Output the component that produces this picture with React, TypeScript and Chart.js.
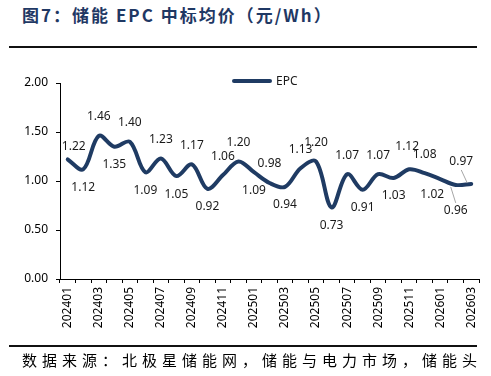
import React, { useEffect, useRef } from "react";
import { Chart, registerables } from "chart.js";

Chart.register(...registerables);

const months = [
  "202401", "202402", "202403", "202404", "202405", "202406", "202407", "202408", "202409",
  "202410", "202411", "202412", "202501", "202502", "202503", "202504", "202505", "202506",
  "202507", "202508", "202509", "202510", "202511", "202512", "202601", "202602", "202603",
];
const epcValues = [
  1.22, 1.12, 1.46, 1.35, 1.4, 1.09, 1.23, 1.05, 1.17, 0.92, 1.06, 1.2, 1.09, 0.98, 0.94,
  1.13, 1.2, 0.73, 1.07, 0.91, 1.07, 1.03, 1.12, 1.08, 1.02, 0.96, 0.97,
];
const yTicks = [0, 0.5, 1, 1.5, 2];
const seriesName = "EPC";
const titleText = "图7：储能 EPC 中标均价（元/Wh）";
const sourceText = "数据来源：北极星储能网，储能与电力市场，储能头";

const NAVY = "#1F3B63";
const BELOW = new Set([1, 3, 5, 7, 9, 12, 14, 17, 19, 21, 24, 25]);
const NUDGE: Record<number, [number, number]> = { 0: [6, 6], 22: [-2, -4], 24: [-8, -2], 25: [0, 8], 26: [-10, -3] };
const LEADER = new Set([25, 26]);

const labelPlugin = {
  id: "valueLabels",
  afterDatasetsDraw(chart: any) {
    const ctx = chart.ctx;
    const meta = chart.getDatasetMeta(0);
    ctx.save();
    ctx.font = '12px "Noto Sans"';
    ctx.textAlign = "center";
    ctx.textBaseline = "middle";
    meta.data.forEach((pt: any, i: number) => {
      const below = BELOW.has(i);
      const [nx, ny] = NUDGE[i] || [0, 0];
      const x = pt.x + nx;
      const y = pt.y + (below ? 18 : -19) + ny;
      if (LEADER.has(i)) {
        ctx.strokeStyle = "#a6a6a6";
        ctx.lineWidth = 1;
        ctx.beginPath();
        if (below) {
          ctx.moveTo(x, y - 8);
          ctx.lineTo(x - 5, pt.y + 2);
        } else {
          ctx.moveTo(x, y + 8);
          ctx.lineTo(pt.x - 4, pt.y - 1);
        }
        ctx.stroke();
      }
      ctx.fillStyle = "#1a1a1a";
      ctx.fillText(epcValues[i].toFixed(2), x, y);
    });
    ctx.restore();
  },
};

export default function App() {
  const ref = useRef<HTMLCanvasElement | null>(null);
  useEffect(() => {
    if (!ref.current) return;
    const chart = new Chart(ref.current, {
      type: "line",
      data: {
        labels: months,
        datasets: [
          {
            label: seriesName,
            data: epcValues,
            borderColor: NAVY,
            backgroundColor: NAVY,
            borderWidth: 4,
            tension: 0.35,
            pointRadius: 0,
            borderCapStyle: "round",
            borderJoinStyle: "round",
            clip: false as any,
          },
        ],
      },
      options: {
        animation: false,
        responsive: false,
        maintainAspectRatio: false,
        layout: { padding: { top: 83, right: 12, left: 0, bottom: 0 } },
        plugins: { legend: { display: false }, tooltip: { enabled: false } },
        scales: {
          x: {
            type: "category",
            offset: true,
            grid: { display: true, drawOnChartArea: false, offset: true, tickLength: 4, color: "#000" },
            border: { color: "#000", width: 1 },
            ticks: {
              autoSkip: false,
              maxRotation: 90,
              minRotation: 90,
              padding: 4,
              color: "#000",
              font: { family: "Noto Sans", size: 12 },
              callback: (_v: any, i: number) => (i % 2 === 0 ? months[i] : ""),
            },
            afterFit: (s: any) => {
              s.height = 97;
            },
          },
          y: {
            min: 0,
            max: 2,
            afterBuildTicks: (s: any) => {
              s.ticks = yTicks.map((v) => ({ value: v }));
            },
            grid: { display: true, drawOnChartArea: false, tickLength: 4, color: "#000" },
            border: { color: "#000", width: 1 },
            ticks: {
              padding: 8,
              color: "#000",
              font: { family: "Noto Sans", size: 12 },
              callback: (v: any) => Number(v).toFixed(2),
            },
            afterFit: (s: any) => {
              s.width = 60;
            },
          },
        },
      },
      plugins: [labelPlugin],
    });
    return () => chart.destroy();
  }, []);

  return (
    <div style={{ position: "fixed", left: 0, top: 0, width: 491, height: 376, background: "#fff", overflow: "hidden" }}>
      <div
        style={{
          position: "absolute",
          left: 22,
          top: 3,
          fontFamily: '"Noto Sans CJK SC"',
          fontWeight: 700,
          fontSize: 17,
          lineHeight: "24px",
          letterSpacing: 2,
          color: "#1F3864",
          whiteSpace: "nowrap",
        }}
      >
        {titleText}
      </div>
      <div style={{ position: "absolute", left: 9, top: 46, width: 468, height: 2, background: "#111" }} />
      <canvas ref={ref} width={491} height={376} style={{ position: "absolute", left: 0, top: 0, width: 491, height: 376 }} />
      <div style={{ position: "absolute", left: 232, top: 79, width: 40, height: 4, borderRadius: 2, background: NAVY }} />
      <div
        style={{
          position: "absolute",
          left: 276,
          top: 73,
          fontFamily: '"Noto Sans"',
          fontSize: 12,
          lineHeight: "16px",
          color: "#1a1a1a",
        }}
      >
        {seriesName}
      </div>
      <div style={{ position: "absolute", left: 9, top: 345, width: 468, height: 2, background: "#111" }} />
      <div
        style={{
          position: "absolute",
          left: 22,
          top: 349,
          fontFamily: '"Noto Sans CJK SC"',
          fontSize: 15,
          lineHeight: "22px",
          letterSpacing: 5.0,
          color: "#000",
          whiteSpace: "nowrap",
        }}
      >
        {sourceText}
      </div>
    </div>
  );
}
